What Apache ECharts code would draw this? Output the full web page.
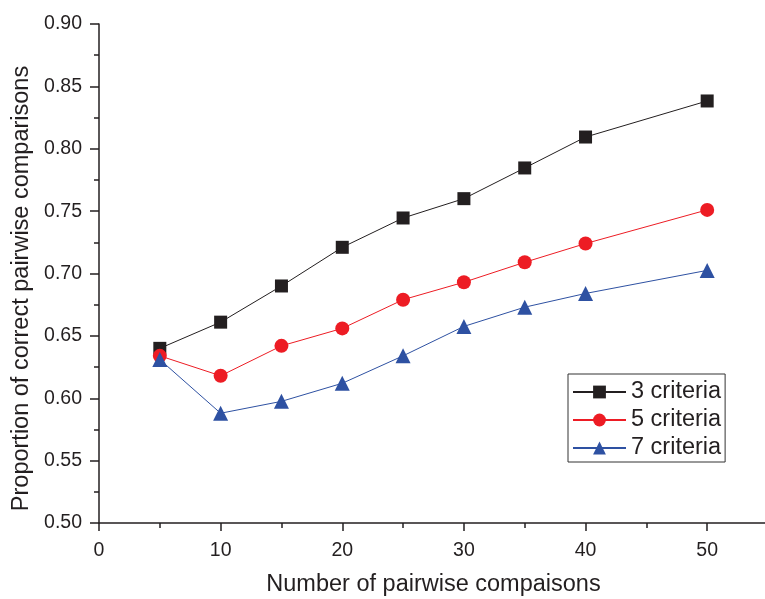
<!DOCTYPE html>
<html><head><meta charset="utf-8">
<script src="https://cdn.jsdelivr.net/npm/echarts@6/dist/echarts.min.js"></script>
<style>html,body{margin:0;padding:0;background:#fff}#c{width:765px;height:599px}</style>
</head><body><div id="c"></div>
<script>
const xValues = [5, 10, 15, 20, 25, 30, 35, 40, 50];
const criteria3 = [0.640, 0.661, 0.690, 0.721, 0.7445, 0.760, 0.7846, 0.8094, 0.8383];
const criteria5 = [0.634, 0.618, 0.642, 0.656, 0.679, 0.693, 0.709, 0.724, 0.751];
const criteria7 = [0.631, 0.588, 0.5975, 0.612, 0.634, 0.6576, 0.673, 0.684, 0.7025];
const seriesNames = ['3 criteria', '5 criteria', '7 criteria'];
const xTitle = 'Number of pairwise compaisons';
const yTitle = 'Proportion of correct pairwise comparisons';

const font = 'Liberation Sans, Arial, sans-serif';
const txt = '#231f20';
function pairs(v){ return xValues.map((x,i)=>[x, v[i]]); }
const chart = echarts.init(document.getElementById('c'), null, {renderer:'canvas'});
chart.setOption({
  animation:false,
  backgroundColor:'#fff',
  grid:{left:99, top:24, width:669, height:499, containLabel:false, outerBoundsMode:'none'},
  legend:{
    orient:'vertical', left:568, top:374,
    borderColor:'#333', borderWidth:1, padding:[6,4,2,4],
    itemWidth:53, itemHeight:16, itemGap:4,
    textStyle:{fontFamily:font, fontSize:23.5, lineHeight:24, color:txt},
    data:seriesNames
  },
  xAxis:{
    type:'value', min:0, max:55, interval:10,
    name:xTitle, nameLocation:'middle', nameGap:50,
    nameTextStyle:{fontFamily:font, fontSize:23.5, color:txt},
    axisLine:{onZero:false, lineStyle:{color:txt, width:1.5}},
    axisTick:{inside:false, length:8, lineStyle:{color:txt, width:1.5}},
    minorTick:{show:true, splitNumber:2, length:5, lineStyle:{color:txt, width:1.5}},
    axisLabel:{fontFamily:font, fontSize:19.5, color:txt, margin:18,
      formatter:function(v){ return v<=50 ? String(v) : ''; }},
    splitLine:{show:false}
  },
  yAxis:{
    type:'value', min:0.50, max:0.90, interval:0.05,
    name:yTitle, nameLocation:'middle', nameGap:65, nameRotate:90,
    nameTextStyle:{fontFamily:font, fontSize:23.5, color:txt, padding:[0,30,0,0]},
    axisLine:{show:true, onZero:false, lineStyle:{color:txt, width:1.5}},
    axisTick:{show:true, inside:false, length:9, lineStyle:{color:txt, width:1.5}},
    minorTick:{show:true, splitNumber:2, length:5, lineStyle:{color:txt, width:1.5}},
    axisLabel:{fontFamily:font, fontSize:19.5, color:txt, margin:17,
      formatter:function(v){ return v.toFixed(2); }},
    splitLine:{show:false}
  },
  series:[
    {name:seriesNames[0], type:'line', data:pairs(criteria3), symbol:'rect', symbolSize:13,
     itemStyle:{color:'#231f20'}, lineStyle:{color:'#231f20', width:1}},
    {name:seriesNames[1], type:'line', data:pairs(criteria5), symbol:'circle', symbolSize:14,
     itemStyle:{color:'#ed1c24'}, lineStyle:{color:'#ed1c24', width:1}},
    {name:seriesNames[2], type:'line', data:pairs(criteria7), symbol:'triangle', symbolSize:15,
     itemStyle:{color:'#2e51a2'}, lineStyle:{color:'#2e51a2', width:1}}
  ]
});
</script></body></html>
